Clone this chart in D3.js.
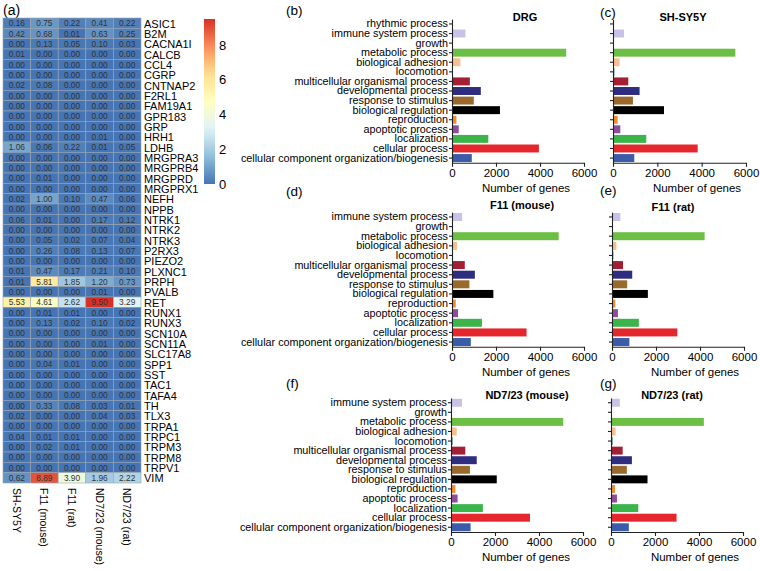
<!DOCTYPE html>
<html><head><meta charset="utf-8">
<script src="https://cdn.jsdelivr.net/npm/d3@7"></script>
<style>body{margin:0;background:#fff;} svg{display:block;font-family:"Liberation Sans",Arial,sans-serif;}</style>
</head><body><svg id="c" width="760" height="571"></svg>
<script>
// ---------- DATA ----------
const genes = ["ASIC1","B2M","CACNA1I","CALCB","CCL4","CGRP","CNTNAP2","F2RL1","FAM19A1","GPR183","GRP","HRH1","LDHB","MRGPRA3","MRGPRB4","MRGPRD","MRGPRX1","NEFH","NPPB","NTRK1","NTRK2","NTRK3","P2RX3","PIEZO2","PLXNC1","PRPH","PVALB","RET","RUNX1","RUNX3","SCN10A","SCN11A","SLC17A8","SPP1","SST","TAC1","TAFA4","TH","TLX3","TRPA1","TRPC1","TRPM3","TRPM8","TRPV1","VIM"];
const cellLines = ["SH-SY5Y","F11 (mouse)","F11 (rat)","ND7/23 (mouse)","ND7/23 (rat)"];
const exprSHSY5Y   = [0.16,0.42,0.00,0.01,0.00,0.00,0.02,0.00,0.00,0.00,0.00,0.00,1.06,0.00,0.00,0.00,0.00,0.02,0.00,0.06,0.00,0.00,0.00,0.00,0.01,0.01,0.00,5.53,0.00,0.00,0.00,0.00,0.00,0.00,0.00,0.00,0.00,0.00,0.02,0.00,0.04,0.00,0.00,0.00,0.62];
const exprF11Mouse = [0.75,0.68,0.13,0.00,0.00,0.00,0.08,0.00,0.00,0.00,0.00,0.00,0.06,0.00,0.00,0.01,0.00,1.00,0.00,0.01,0.00,0.05,0.26,0.00,0.47,5.81,0.00,4.61,0.01,0.13,0.00,0.00,0.00,0.04,0.00,0.00,0.00,0.33,0.00,0.00,0.01,0.02,0.00,0.00,8.89];
const exprF11Rat   = [0.22,0.01,0.05,0.00,0.00,0.00,0.00,0.00,0.00,0.00,0.00,0.00,0.22,0.00,0.00,0.00,0.00,0.10,0.00,0.00,0.00,0.02,0.08,0.00,0.17,1.85,0.00,2.62,0.01,0.02,0.00,0.00,0.00,0.01,0.00,0.00,0.00,0.08,0.00,0.00,0.01,0.01,0.00,0.00,3.90];
const exprND7Mouse = [0.41,0.63,0.10,0.00,0.00,0.00,0.00,0.00,0.00,0.00,0.00,0.01,0.01,0.00,0.00,0.00,0.00,0.47,0.00,0.17,0.00,0.07,0.13,0.00,0.21,1.20,0.01,9.50,0.00,0.10,0.00,0.01,0.00,0.00,0.00,0.00,0.00,0.03,0.04,0.00,0.00,0.00,0.00,0.00,1.96];
const exprND7Rat   = [0.22,0.25,0.03,0.00,0.00,0.00,0.00,0.00,0.00,0.00,0.00,0.00,0.05,0.00,0.00,0.00,0.00,0.06,0.00,0.12,0.00,0.04,0.07,0.00,0.10,0.73,0.00,3.29,0.00,0.02,0.00,0.00,0.00,0.00,0.00,0.00,0.00,0.01,0.03,0.00,0.00,0.00,0.00,0.00,2.22];
const colorbarTicks = [0,2,4,6,8];

const goTerms = ["rhythmic process","immune system process","growth","metabolic process","biological adhesion","locomotion","multicellular organismal process","developmental process","response to stimulus","biological regulation","reproduction","apoptotic process","localization","cellular process","cellular component organization/biogenesis"];
const goTerms14 = goTerms.slice(1);
const drgGenes      = [30,610,8,5190,380,45,810,1310,990,2180,200,305,1650,3950,900];
const shsy5yGenes   = [20,500,8,5520,300,60,690,1200,900,2300,210,330,1500,3820,960];
const f11MouseGenes = [460,8,4850,230,46,580,1040,790,1880,170,275,1360,3390,855];
const f11RatGenes   = [380,8,4210,200,60,500,920,690,1630,150,270,1220,2970,790];
const nd7MouseGenes = [500,8,5100,260,70,650,1170,860,2080,200,300,1450,3590,890];
const nd7RatGenes   = [400,8,4220,210,70,530,950,720,1660,180,270,1240,2980,810];
const xTicks = [0,2000,4000,6000];

// ---------- STYLE ----------
const goColors = {"rhythmic process":"#e8d24a","immune system process":"#c6c3e6","growth":"#5a8fb0","metabolic process":"#6cbf45","biological adhesion":"#f6bf8f","locomotion":"#1f6b50","multicellular organismal process":"#a31f34","developmental process":"#2e2d7f","response to stimulus":"#9a6a2c","biological regulation":"#000000","reproduction":"#f28a30","apoptotic process":"#8f4c9f","localization":"#3bb54a","cellular process":"#e6262d","cellular component organization/biogenesis":"#3b5ca8"};
const pal = ["#4575B4","#91BFDB","#E0F3F8","#FFFFBF","#FEE090","#FC8D59","#D73027"];

const svg = d3.select("#c");

// ---------- HEATMAP ----------
const matrix = [exprSHSY5Y, exprF11Mouse, exprF11Rat, exprND7Mouse, exprND7Rat];
const vmax = d3.max(matrix.flat());
const color = d3.scaleLinear().domain(pal.map((_,i)=> i*vmax/(pal.length-1))).range(pal).interpolate(d3.interpolateRgb);
const hx = d3.scaleBand().domain(cellLines).range([3,141]);
const hy = d3.scaleBand().domain(genes).range([18,483]);

svg.append("text").attr("x",3).attr("y",15).attr("font-size",14).text("(a)");

const cells = [];
cellLines.forEach((c,ci)=> genes.forEach((g,gi)=> cells.push({c,g,v:matrix[ci][gi]})));
const hm = svg.append("g");
hm.selectAll("rect").data(cells).join("rect")
  .attr("x",d=>hx(d.c)).attr("y",d=>hy(d.g))
  .attr("width",hx.bandwidth()).attr("height",hy.bandwidth())
  .attr("fill",d=>color(d.v)).attr("stroke","#9aa3b0").attr("stroke-width",0.6);
hm.selectAll("text").data(cells).join("text")
  .attr("x",d=>hx(d.c)+hx.bandwidth()/2).attr("y",d=>hy(d.g)+hy.bandwidth()/2+0.3)
  .attr("text-anchor","middle").attr("dominant-baseline","central")
  .attr("font-size",8.3).attr("fill","#333").text(d=>d.v.toFixed(2));
svg.append("g").selectAll("text").data(genes).join("text")
  .attr("x",144).attr("y",d=>hy(d)+hy.bandwidth()/2+0.5)
  .attr("dominant-baseline","central").attr("font-size",11).text(d=>d);
svg.append("g").selectAll("text").data(cellLines).join("text")
  .attr("transform",d=>`translate(${hx(d)+hx.bandwidth()/2},488) rotate(90)`)
  .attr("dominant-baseline","central").attr("font-size",10.5).text(d=>d);

// colorbar
const cy = d3.scaleLinear().domain([0,vmax]).range([184,19]);
const defs = svg.append("defs");
const grad = defs.append("linearGradient").attr("id","cb").attr("x1",0).attr("y1",1).attr("x2",0).attr("y2",0);
d3.range(0,1.0001,0.05).forEach(t=> grad.append("stop").attr("offset",t).attr("stop-color",color(t*vmax)));
svg.append("rect").attr("x",204).attr("y",cy(vmax)).attr("width",11).attr("height",cy(0)-cy(vmax)).attr("fill","url(#cb)");
svg.append("g").selectAll("text").data(colorbarTicks).join("text")
  .attr("x",219).attr("y",d=>cy(d)).attr("dominant-baseline","central").attr("font-size",13).text(d=>d);

// ---------- BAR PANELS ----------
const panels = [
  {lab:"(b)", title:"DRG", terms:goTerms, vals:drgGenes, x0:452, x1:584, y0:19.2, y1:162.8, labels:true, lx:286, ly:15, tx:525, ty:21, nx:526},
  {lab:"(c)", title:"SH-SY5Y", terms:goTerms, vals:shsy5yGenes, x0:613, x1:746, y0:19.2, y1:162.8, labels:false, lx:600, ly:17, tx:683, ty:21, nx:697},
  {lab:"(d)", title:"F11 (mouse)", terms:goTerms14, vals:f11MouseGenes, x0:452, x1:584, y0:212.2, y1:346.8, labels:true, lx:286, ly:196, tx:522, ty:209, nx:526},
  {lab:"(e)", title:"F11 (rat)", terms:goTerms14, vals:f11RatGenes, x0:612, x1:744, y0:212.2, y1:346.8, labels:false, lx:600, ly:195, tx:673, ty:211, nx:695},
  {lab:"(f)", title:"ND7/23 (mouse)", terms:goTerms14, vals:nd7MouseGenes, x0:451, x1:583, y0:398, y1:532, labels:true, lx:286, ly:388, tx:527, ty:399, nx:526},
  {lab:"(g)", title:"ND7/23 (rat)", terms:goTerms14, vals:nd7RatGenes, x0:611, x1:743, y0:398, y1:532, labels:false, lx:600, ly:388, tx:672, ty:399, nx:695}
];

panels.forEach(p=>{
  const g = svg.append("g");
  const x = d3.scaleLinear().domain([0,6000]).range([p.x0,p.x1]);
  const y = d3.scaleBand().domain(p.terms).range([p.y0,p.y1]).paddingInner(0.17).paddingOuter(0.08);
  g.selectAll("rect").data(p.terms.map((t,i)=>({t,v:p.vals[i]}))).join("rect")
    .attr("x",x(0)).attr("y",d=>y(d.t)).attr("width",d=>x(d.v)-x(0)).attr("height",y.bandwidth())
    .attr("fill",d=>goColors[d.t]);
  const ya = g.append("g").attr("transform",`translate(${p.x0},0)`)
    .call(d3.axisLeft(y).tickSize(3).tickSizeOuter(0).tickPadding(1).tickFormat(p.labels? d=>d : ""));
  ya.selectAll("text").attr("font-size",10.8).attr("fill","#000");
  const xa = g.append("g").attr("transform",`translate(0,${p.y1})`)
    .call(d3.axisBottom(x).tickValues(xTicks).tickFormat(d3.format("d")).tickSize(4).tickSizeOuter(0).tickPadding(2));
  xa.selectAll("text").attr("font-size",11.5).attr("fill","#000");
  [ya,xa].forEach(a=>{a.selectAll("path,line").attr("stroke","#222").attr("stroke-width",1.1); a.attr("font-family",null);});
  g.append("text").attr("x",p.nx).attr("y",p.y1+29).attr("text-anchor","middle").attr("font-size",11.5).text("Number of genes");
  g.append("text").attr("x",p.tx).attr("y",p.ty).attr("text-anchor","middle").attr("font-size",11).attr("font-weight","bold").text(p.title);
  g.append("text").attr("x",p.lx).attr("y",p.ly).attr("font-size",13.5).text(p.lab);
});
</script></body></html>
